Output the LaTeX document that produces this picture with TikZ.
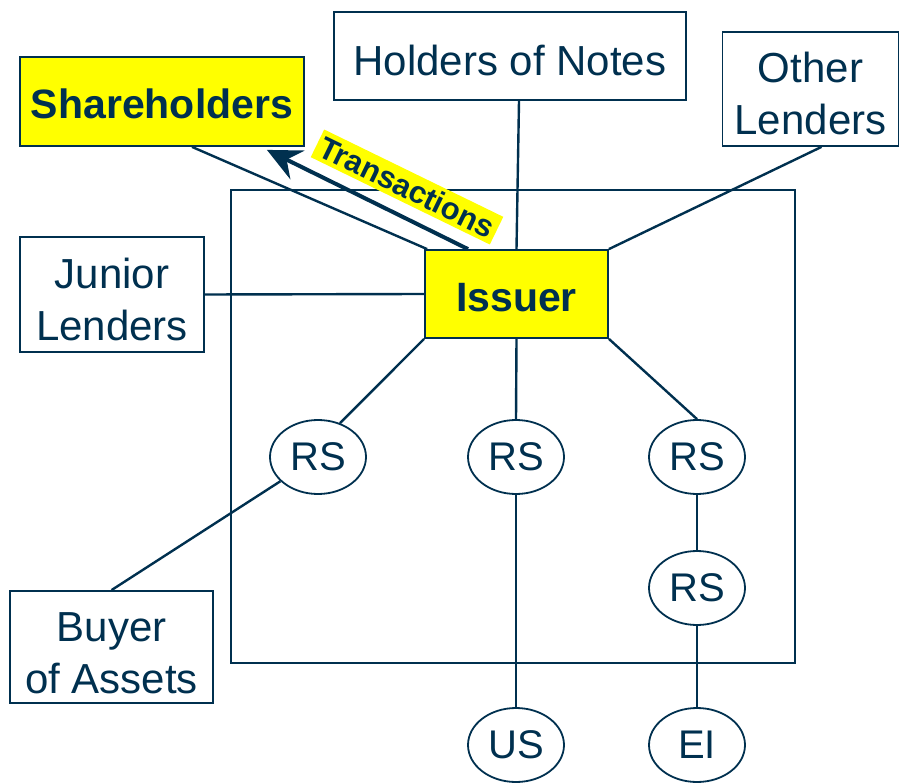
\documentclass[tikz,border=0pt]{standalone}
\usepackage{fontspec}
\setmainfont{Liberation Sans}
\usetikzlibrary{shapes.geometric,arrows.meta,calc}
\definecolor{navy}{HTML}{00304F}
\definecolor{hilite}{HTML}{FFFF00}
% lower a label inside its box while keeping the box's natural size
\newcommand{\dropby}[2]{\raisebox{-#1}[\height][\depth]{#2}}
\tikzset{
  party/.style={draw=navy, line width=1.8pt, fill=white, text=navy, inner sep=0pt,
    align=center, font=\fontsize{42}{52}\selectfont},
  keybox/.style={party, fill=hilite, font=\fontsize{41}{50}\selectfont\bfseries},
  rsnode/.style={ellipse, draw=navy, line width=1.8pt, fill=white, text=navy, inner sep=0pt,
    minimum width=96pt, minimum height=74pt, font=\fontsize{40}{48}\selectfont},
  frame/.style={draw=navy, line width=2pt, inner sep=0pt},
  link/.style={navy, line width=2.4pt},
  flow/.style={navy, line width=4pt, -{Stealth[length=34pt,width=32pt,inset=12pt]}},
  flowlabel/.style={fill=hilite, text=navy, inner xsep=4pt, inner ysep=4pt,
    font=\fontsize{31}{36}\selectfont\bfseries}
}
\begin{document}
\begin{tikzpicture}[x=1pt,y=-1pt]
\useasboundingbox (0,0) rectangle (899,783);

% enclosing frame round the issuer and its receivables
\node[frame, minimum width=564pt, minimum height=473pt] (encl) at (513,426.5) {};

% parties
\node[keybox, minimum width=284pt, minimum height=89pt] (share) at (162,101.5) {\dropby{2pt}{Shareholders}};
\node[party, minimum width=352pt, minimum height=88pt] (notes) at (510,56) {\dropby{4pt}{Holders of Notes}};
\node[party, minimum width=176pt, minimum height=114pt] (other) at (810.5,89) {\dropby{9pt}{\begin{tabular}{@{}c@{}}Other\\Lenders\end{tabular}}};
\node[party, minimum width=184pt, minimum height=115pt] (junior) at (112,294.5) {\dropby{10pt}{\begin{tabular}{@{}c@{}}Junior\\Lenders\end{tabular}}};
\node[keybox, minimum width=183pt, minimum height=88pt] (iss) at (516.5,294) {\dropby{4pt}{Issuer}};
\node[party, minimum width=203pt, minimum height=112pt] (buyer) at (111.5,647) {\dropby{10pt}{\begin{tabular}{@{}c@{}}Buyer\\of Assets\end{tabular}}};

% receivable streams
\node[rsnode] (rs1) at (318,457) {RS};
\node[rsnode] (rs2) at (516,457) {RS};
\node[rsnode] (rs3) at (697,457) {RS};
\node[rsnode] (rs4) at (697,588) {RS};
\node[rsnode] (us) at (516,745) {US};
\node[rsnode] (ei) at (697,745) {EI};

% links
\draw[link] ([xshift=30pt]share.south) -- ([xshift=3pt]iss.north west);
\draw[link] ([xshift=9pt]notes.south) -- (iss.north);
\draw[link] ([xshift=11pt]other.south) -- (iss.north east);
\draw[link] (junior.east) -- (iss.west);
\draw[link] (iss.south west) -- (rs1.57);
\draw[link] (iss.south) -- (rs2.north);
\draw[link] (iss.south east) -- (rs3.north);
\draw[link] (buyer.north) -- (rs1);
\draw[link] (rs2.south) -- (us.north);
\draw[link] (rs3.south) -- (rs4.north);
\draw[link] (rs4.south) -- (ei.north);

% transactions flowing to shareholders
\draw[flow] ([xshift=-48.5pt]iss.north) -- ([xshift=-38pt,yshift=-3pt]share.south east);
\node[flowlabel, rotate=-26] (trans) at (407,187) {Transactions};
\end{tikzpicture}
\end{document}
